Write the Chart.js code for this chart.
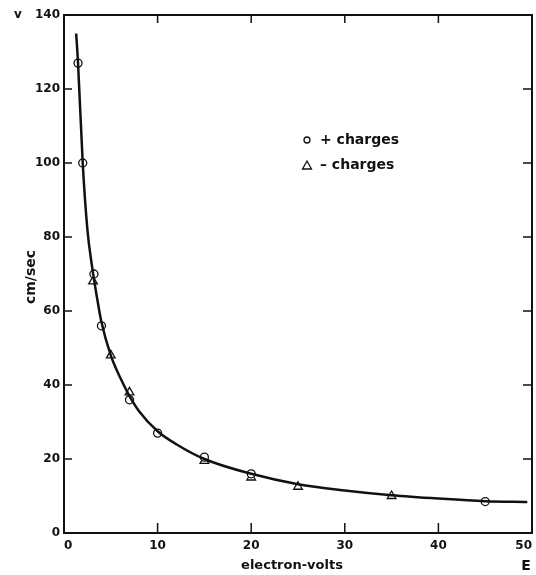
<!DOCTYPE html>
<html>
<head>
    <title>Velocity vs electron-volts</title>
    <script src="https://cdn.jsdelivr.net/npm/chart.js"></script>
    <style>
        body { margin: 0; background: #fff; }
        canvas { display: block; }
    </style>
</head>
<body>
    <canvas id="velChart" width="536" height="575"></canvas>

    <script>
        // fitted curve
        var curveE = [1.3, 1.5, 2, 2.5, 3, 3.5, 4, 5, 6, 7, 8, 10, 12, 15, 20, 25, 30, 35, 40, 45, 49.5];
        var curveV = [135, 127, 100, 82, 72, 64, 57, 48, 42, 37, 33, 27.5, 24, 20, 16, 13.2, 11.5, 10.2, 9.3, 8.6, 8.4];

        // + charges (circles)
        var posE = [1.5, 2, 3.2, 4, 7, 10, 15, 20, 45];
        var posV = [127, 100, 70, 56, 36, 27, 20.5, 16, 8.5];

        // - charges (triangles)
        var negE = [3.1, 5, 7, 15, 20, 25, 35];
        var negV = [68, 48, 38, 19.5, 15, 12.5, 10];

        var xTicks = [0, 10, 20, 30, 40, 50];
        var yTicks = [0, 20, 40, 60, 80, 100, 120, 140];

        function pairs(xs, ys) {
            return xs.map(function(x, i) { return {x: x, y: ys[i]}; });
        }

        var tickFont = {family: 'DejaVu Sans', size: 12, weight: 'bold'};

        // inward ticks on all four sides, frame and the free text
        var framePlugin = {
            id: 'frame',
            afterDraw: function(chart) {
                var ctx = chart.ctx;
                var a = chart.chartArea;
                var xs = chart.scales.x, ys = chart.scales.y;
                ctx.save();
                ctx.strokeStyle = '#111';
                ctx.lineWidth = 2;
                ctx.strokeRect(a.left, a.top, a.right - a.left, a.bottom - a.top);
                ctx.lineWidth = 1.5;
                ctx.beginPath();
                xTicks.forEach(function(v) {
                    var px = xs.getPixelForValue(v);
                    ctx.moveTo(px, a.bottom); ctx.lineTo(px, a.bottom - 10);
                    ctx.moveTo(px, a.top); ctx.lineTo(px, a.top + 8);
                });
                yTicks.forEach(function(v) {
                    var py = ys.getPixelForValue(v);
                    ctx.moveTo(a.left, py); ctx.lineTo(a.left + 8, py);
                    ctx.moveTo(a.right, py); ctx.lineTo(a.right - 9, py);
                });
                ctx.stroke();

                ctx.fillStyle = '#111';
                ctx.font = 'bold 12px "DejaVu Sans"';
                ctx.textBaseline = 'middle';
                ctx.textAlign = 'center';
                ctx.fillText('v', 18, 15);
                ctx.font = 'bold 14px "DejaVu Sans"';
                ctx.fillText('E', 526, 566);
                ctx.font = 'bold 13px "DejaVu Sans"';
                ctx.fillText('electron-volts', 292, 566);
                ctx.save();
                ctx.translate(31, 277);
                ctx.rotate(-Math.PI / 2);
                ctx.font = 'bold 14px "DejaVu Sans"';
                ctx.fillText('cm/sec', 0, 0);
                ctx.restore();

                // legend
                ctx.textAlign = 'left';
                ctx.font = 'bold 14px "DejaVu Sans"';
                ctx.fillText('+ charges', 320, 140);
                ctx.fillText('\u2013 charges', 320, 165);
                ctx.lineWidth = 1.3;
                ctx.beginPath();
                ctx.arc(307, 140, 3, 0, Math.PI * 2);
                ctx.stroke();
                ctx.beginPath();
                ctx.moveTo(307, 161); ctx.lineTo(311.5, 169); ctx.lineTo(302.5, 169); ctx.closePath();
                ctx.stroke();
                ctx.restore();
            }
        };

        var ctx = document.getElementById('velChart').getContext('2d');
        var velChart = new Chart(ctx, {
            type: 'scatter',
            data: {
                datasets: [{
                    label: 'curve',
                    data: pairs(curveE, curveV),
                    showLine: true,
                    borderColor: '#111',
                    borderWidth: 2.5,
                    pointRadius: 0,
                    cubicInterpolationMode: 'monotone'
                }, {
                    label: '+ charges',
                    data: pairs(posE, posV),
                    pointStyle: 'circle',
                    pointRadius: 4,
                    backgroundColor: '#fff',
                    borderColor: '#111',
                    borderWidth: 1.3
                }, {
                    label: '- charges',
                    data: pairs(negE, negV),
                    pointStyle: 'triangle',
                    pointRadius: 5,
                    backgroundColor: 'rgba(255,255,255,0.6)',
                    borderColor: '#111',
                    borderWidth: 1.3
                }]
            },
            options: {
                responsive: false,
                animation: false,
                layout: {
                    autoPadding: false,
                    padding: {top: 15, right: 4, left: 0, bottom: 0}
                },
                plugins: {
                    legend: {display: false},
                    tooltip: {enabled: false}
                },
                scales: {
                    x: {
                        type: 'linear',
                        min: 0,
                        max: 50,
                        afterFit: function(s) { s.height = 42; s.paddingLeft = 0; s.paddingRight = 0; },
                        afterBuildTicks: function(s) { s.ticks = xTicks.map(function(v) { return {value: v}; }); },
                        grid: {display: false, drawTicks: false, tickLength: 0},
                        border: {display: false},
                        ticks: {color: '#111', font: tickFont, padding: 6, maxRotation: 0, align: 'inner'}
                    },
                    y: {
                        type: 'linear',
                        min: 0,
                        max: 140,
                        afterFit: function(s) { s.width = 64; s.paddingTop = 0; s.paddingBottom = 0; },
                        afterBuildTicks: function(s) { s.ticks = yTicks.map(function(v) { return {value: v}; }); },
                        grid: {display: false, drawTicks: false, tickLength: 0},
                        border: {display: false},
                        ticks: {color: '#111', font: tickFont, padding: 4}
                    }
                }
            },
            plugins: [framePlugin]
        });
    </script>
</body>
</html>
